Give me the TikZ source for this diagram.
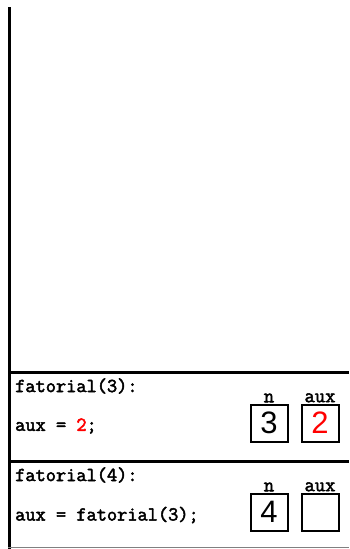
\documentclass[tikz,border=0pt]{standalone}
\usepackage{fontspec}
\setsansfont{Liberation Sans}
\setmonofont{Latin Modern Mono}[BoldFont={Latin Modern Mono},BoldFeatures={FakeBold=2.5}]
\usepackage{xcolor}
\tikzset{
  codetxt/.style={anchor=west,inner sep=0pt,font=\ttfamily\bfseries\fontsize{19.8}{22}\selectfont},
  varbox/.style={draw,line width=2pt,minimum size=37pt,inner sep=0pt,font=\sffamily\fontsize{31}{34}\selectfont},
  varname/.style={above=1pt,inner sep=0pt,font=\ttfamily\bfseries\fontsize{20}{22}\selectfont}
}
\begin{document}
\begin{tikzpicture}[x=1pt,y=-1pt]
\useasboundingbox (0,0) rectangle (349,549);
\draw[line width=3pt] (9.5,7)--(9.5,549);
\draw[line width=3pt] (8,372)--(349,372);
\draw[line width=3pt] (8,461)--(349,461);
\draw[line width=1.5pt,gray] (8,547.5)--(349,547.5);
% frame fatorial(3)
\node[codetxt] (f3) at (15,386) {fatorial(3):};
\node[codetxt] (a3) at (15,426) {aux = \textcolor{red}{2};};
\node[varbox] (n3) at (269,423) {3};
\node[varbox,text=red] (aux3) at (320,423) {2};
\node[varname] at (n3.north) {n};
\node[varname] at (aux3.north) {aux};
% frame fatorial(4)
\node[codetxt] (f4) at (15,475) {fatorial(4):};
\node[codetxt] (a4) at (15,515) {aux = fatorial(3);};
\node[varbox] (n4) at (269,512) {4};
\node[varbox] (aux4) at (320,512) {};
\node[varname] at (n4.north) {n};
\node[varname] at (aux4.north) {aux};
\end{tikzpicture}
\end{document}
